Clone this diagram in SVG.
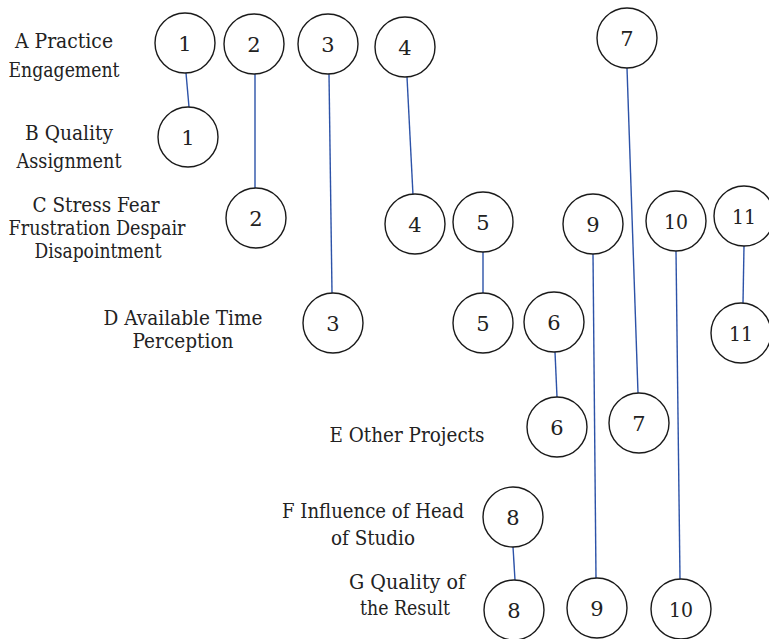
<svg xmlns="http://www.w3.org/2000/svg" width="769" height="639" viewBox="0 0 769 639">
<style>
.n circle{fill:#fff;stroke:#1a1a1a;stroke-width:1.4}
text{fill:#222;text-anchor:middle;font-family:'DejaVu Serif',serif;font-size:21px}
.c line{stroke:#2c52a8;stroke-width:1.4}
</style>
<rect width="769" height="639" fill="#fff"/>
<g id="labels" lengthAdjust="spacingAndGlyphs">
<text x="64" y="48" textLength="98" lengthAdjust="spacingAndGlyphs">A Practice</text>
<text x="64" y="77" textLength="111" lengthAdjust="spacingAndGlyphs">Engagement</text>
<text x="69" y="140" textLength="88" lengthAdjust="spacingAndGlyphs">B Quality</text>
<text x="69" y="168" textLength="105" lengthAdjust="spacingAndGlyphs">Assignment</text>
<text x="96" y="212" textLength="127" lengthAdjust="spacingAndGlyphs">C Stress Fear</text>
<text x="97" y="235" textLength="177" lengthAdjust="spacingAndGlyphs">Frustration Despair</text>
<text x="98" y="258" textLength="127" lengthAdjust="spacingAndGlyphs">Disapointment</text>
<text x="183" y="325" textLength="159" lengthAdjust="spacingAndGlyphs">D Available Time</text>
<text x="183" y="348" textLength="101" lengthAdjust="spacingAndGlyphs">Perception</text>
<text x="407" y="442" textLength="155" lengthAdjust="spacingAndGlyphs">E Other Projects</text>
<text x="373" y="518" textLength="182" lengthAdjust="spacingAndGlyphs">F Influence of Head</text>
<text x="373" y="545" textLength="84" lengthAdjust="spacingAndGlyphs">of Studio</text>
<text x="407" y="589" textLength="116" lengthAdjust="spacingAndGlyphs">G Quality of</text>
<text x="405" y="615" textLength="90" lengthAdjust="spacingAndGlyphs">the Result</text>
</g>
<g class="c" id="connectors">
<line x1="186" y1="73" x2="189" y2="107"/>
<line x1="255" y1="74" x2="255" y2="188"/>
<line x1="329" y1="74" x2="332" y2="293"/>
<line x1="407" y1="77" x2="413" y2="195"/>
<line x1="627" y1="68" x2="638" y2="393"/>
<line x1="483" y1="252" x2="483" y2="293"/>
<line x1="593" y1="254" x2="596" y2="578"/>
<line x1="676" y1="251" x2="680" y2="579"/>
<line x1="744" y1="246" x2="743" y2="303"/>
<line x1="555" y1="352" x2="557" y2="397"/>
<line x1="513" y1="547" x2="515" y2="580"/>
</g>
<g class="n" id="n1a"><circle cx="185" cy="43" r="30"/><text x="185" y="51">1</text></g>
<g class="n" id="n2a"><circle cx="254" cy="44" r="30"/><text x="254" y="52">2</text></g>
<g class="n" id="n3a"><circle cx="328" cy="44" r="30"/><text x="328" y="52">3</text></g>
<g class="n" id="n4a"><circle cx="405" cy="47" r="30"/><text x="405" y="55">4</text></g>
<g class="n" id="n7a"><circle cx="627" cy="38" r="30"/><text x="627" y="46">7</text></g>
<g class="n" id="n1b"><circle cx="188" cy="137" r="30"/><text x="188" y="145">1</text></g>
<g class="n" id="n2b"><circle cx="256" cy="218" r="30"/><text x="256" y="226">2</text></g>
<g class="n" id="n4b"><circle cx="415" cy="224" r="30"/><text x="415" y="232">4</text></g>
<g class="n" id="n5a"><circle cx="483" cy="222" r="30"/><text x="483" y="230">5</text></g>
<g class="n" id="n9a"><circle cx="593" cy="224" r="30"/><text x="593" y="232">9</text></g>
<g class="n" id="n10a"><circle cx="676" cy="221" r="30"/><text x="676" y="229" textLength="24" lengthAdjust="spacingAndGlyphs">10</text></g>
<g class="n" id="n11a"><circle cx="744" cy="216" r="30"/><text x="744" y="224" textLength="24" lengthAdjust="spacingAndGlyphs">11</text></g>
<g class="n" id="n3b"><circle cx="333" cy="323" r="30"/><text x="333" y="331">3</text></g>
<g class="n" id="n5b"><circle cx="483" cy="323" r="30"/><text x="483" y="331">5</text></g>
<g class="n" id="n6a"><circle cx="554" cy="322" r="30"/><text x="554" y="330">6</text></g>
<g class="n" id="n11b"><circle cx="741" cy="333" r="30"/><text x="741" y="341" textLength="24" lengthAdjust="spacingAndGlyphs">11</text></g>
<g class="n" id="n6b"><circle cx="557" cy="427" r="30"/><text x="557" y="435">6</text></g>
<g class="n" id="n7b"><circle cx="639" cy="423" r="30"/><text x="639" y="431">7</text></g>
<g class="n" id="n8a"><circle cx="513" cy="517" r="30"/><text x="513" y="525">8</text></g>
<g class="n" id="n8b"><circle cx="514" cy="610" r="30"/><text x="514" y="618">8</text></g>
<g class="n" id="n9b"><circle cx="597" cy="608" r="30"/><text x="597" y="616">9</text></g>
<g class="n" id="n10b"><circle cx="681" cy="609" r="30"/><text x="681" y="617" textLength="24" lengthAdjust="spacingAndGlyphs">10</text></g>
</svg>
